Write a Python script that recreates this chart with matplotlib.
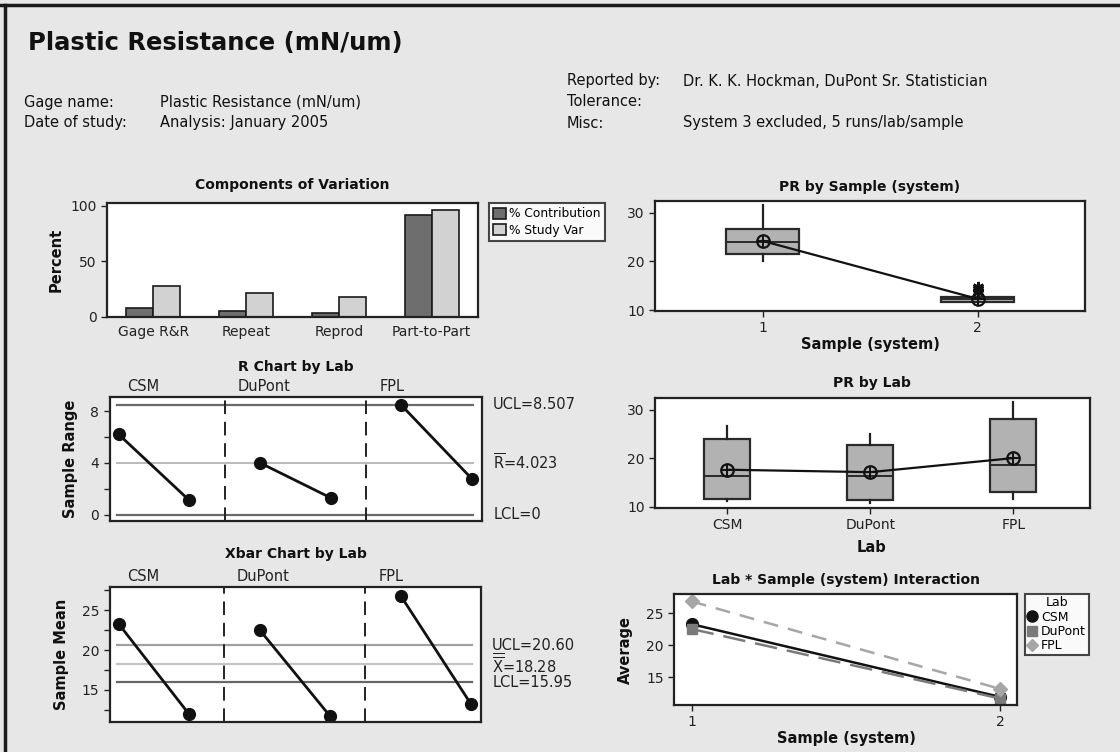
import matplotlib
matplotlib.use('Agg')
import matplotlib.pyplot as plt
import matplotlib.transforms as mtransforms
from matplotlib.lines import Line2D

plt.rcParams['font.family'] = ['DejaVu Sans']
plt.rcParams['mathtext.fontset'] = 'dejavusans'

W, H = 1120, 752
BG = '#e7e7e7'

# ---------------- data ----------------
components = ['Gage R&R', 'Repeat', 'Reprod', 'Part-to-Part']
pct_contribution = [7.9, 5.8, 3.4, 92.1]
pct_study_var = [28.2, 21.8, 17.8, 96.0]

labs = ['CSM', 'DuPont', 'FPL']
samples = [1, 2]
r_values = [6.2, 1.1, 4.0, 1.3, 8.45, 2.75]
r_ucl, r_bar, r_lcl = 8.507, 4.023, 0.0
xbar_values = [23.3, 11.95, 22.55, 11.7, 26.85, 13.2]
x_ucl, x_bar, x_lcl = 20.60, 18.28, 15.95

# PR by sample boxplot statistics
sample_med = [23.9, 12.2]
sample_q1 = [21.6, 11.6]
sample_q3 = [26.6, 12.6]
sample_whislo = [20.0, 11.5]
sample_whishi = [31.5, 12.7]
sample_mean = [24.2, 12.3]
sample_fliers = [[], [13.8, 14.3, 14.8]]

# PR by lab boxplot statistics
lab_med = [16.4, 16.4, 18.5]
lab_q1 = [11.6, 11.4, 13.0]
lab_q3 = [23.9, 22.7, 28.1]
lab_whislo = [11.2, 10.7, 11.6]
lab_whishi = [26.6, 24.9, 31.5]
lab_mean = [17.6, 17.1, 20.0]

# interaction means (lab x sample)
inter_csm = [23.3, 11.95]
inter_dupont = [22.55, 11.7]
inter_fpl = [26.85, 13.2]

# ---------------- figure ----------------
fig = plt.figure(figsize=(W / 100, H / 100), dpi=100, facecolor=BG)


def px_axes(l, t, r, b):
    ax = fig.add_axes([l / W, 1 - b / H, (r - l) / W, (b - t) / H])
    ax.set_facecolor('white')
    for s in ax.spines.values():
        s.set_linewidth(1.6)
        s.set_color('#222222')
    ax.tick_params(axis='both', which='both', direction='out', length=4,
                   width=1, labelsize=10, colors='#222222', labelcolor='#222222')
    return ax


def ftext(x, y, s, **kw):
    fig.text(x / W, 1 - y / H, s, **kw)


# frame lines
fig.add_artist(Line2D([0, 1], [1 - 5 / H, 1 - 5 / H], color='#1a1a1a', lw=2.5,
                      transform=fig.transFigure))
fig.add_artist(Line2D([5 / W, 5 / W], [0, 1 - 5 / H], color='#1a1a1a', lw=2.5,
                      transform=fig.transFigure))

# header
ftext(28, 43, 'Plastic Resistance (mN/um)', fontsize=17.5, fontweight='bold',
      va='center', ha='left', color='#111111')
hdr = dict(fontsize=10.5, va='center', ha='left', color='#111111')
ftext(24, 102, 'Gage name:', **hdr)
ftext(160, 102, 'Plastic Resistance (mN/um)', **hdr)
ftext(24, 123, 'Date of study:', **hdr)
ftext(160, 123, 'Analysis: January 2005', **hdr)
ftext(567, 81, 'Reported by:', **hdr)
ftext(683, 81, 'Dr. K. K. Hockman, DuPont Sr. Statistician', **hdr)
ftext(567, 102, 'Tolerance:', **hdr)
ftext(567, 123, 'Misc:', **hdr)
ftext(683, 123, 'System 3 excluded, 5 runs/lab/sample', **hdr)

title_kw = dict(fontsize=10, fontweight='bold', ha='center', va='center', color='#111111')
lab_kw = dict(fontsize=10.5, fontweight='bold', color='#111111')

# ---------- Components of Variation ----------
ax1 = px_axes(107, 203, 478, 317)
x = list(range(len(components)))
bw = 0.29
ax1.bar([i - bw / 2 for i in x], pct_contribution, width=bw, color='#6e6e6e',
        edgecolor='#1a1a1a', linewidth=1.2, label='% Contribution')
ax1.bar([i + bw / 2 for i in x], pct_study_var, width=bw, color='#d2d2d2',
        edgecolor='#1a1a1a', linewidth=1.2, label='% Study Var')
ax1.set_xlim(-0.5, 3.5)
ax1.set_ylim(0, 102.5)
ax1.set_yticks([0, 50, 100])
ax1.set_xticks(x)
ax1.set_xticklabels(components)
ax1.tick_params(axis='x', length=0, pad=6)
ax1.set_ylabel('Percent', **lab_kw)
ax1.yaxis.set_label_coords(-0.118, 0.5)
ftext(292, 185, 'Components of Variation', **title_kw)
leg = ax1.legend(loc='upper left', bbox_to_anchor=(1.03, 1.0), fontsize=8.8,
                 frameon=True, fancybox=False, edgecolor='#1a1a1a', borderpad=0.35,
                 handlelength=1.0, handleheight=1.0, handletextpad=0.3,
                 labelspacing=0.3, borderaxespad=0)
leg.get_frame().set_linewidth(1.5)
leg.get_frame().set_facecolor('white')

# ---------- R Chart by Lab ----------
pos = [1, 2, 3, 4, 5, 6]
ax2 = px_axes(109.5, 397, 482, 521)
ax2.axhline(r_ucl, xmin=0.02, xmax=0.975, color='#6a6a6a', lw=1.6)
ax2.axhline(r_bar, xmin=0.02, xmax=0.975, color='#b4b4b4', lw=1.3)
ax2.axhline(r_lcl, xmin=0.02, xmax=0.975, color='#6a6a6a', lw=1.6)
for sep in (2.5, 4.5):
    ax2.axvline(sep, color='#222222', lw=1.4, dashes=(7, 4))
for g in range(3):
    ax2.plot(pos[2 * g:2 * g + 2], r_values[2 * g:2 * g + 2], color='#111111',
             lw=2, marker='o', ms=8.5)
ax2.set_xlim(0.87, 6.14)
ax2.set_ylim(-0.49, 9.09)
ax2.set_yticks([0, 4, 8])
ax2.set_yticks([2, 6], minor=True)
ax2.set_xticks([])
ax2.set_ylabel('Sample Range', **lab_kw)
ax2.yaxis.set_label_coords(-0.085, 0.5)
tr2 = mtransforms.blended_transform_factory(ax2.transAxes, ax2.transData)
rk = dict(fontsize=10.5, va='center', ha='left', color='#222222', transform=tr2)
ax2.text(1.03, r_ucl, 'UCL=8.507', **rk)
ax2.text(1.03, r_bar, r'$\overline{\mathrm{R}}$=4.023', **rk)
ax2.text(1.03, r_lcl, 'LCL=0', **rk)
trg2 = mtransforms.blended_transform_factory(ax2.transData, ax2.transAxes)
for xx, nm in zip([1.12, 2.68, 4.69], labs):
    ax2.text(xx, 1.025, nm, fontsize=10.5, ha='left', va='bottom', color='#222222',
             transform=trg2)
ftext(296, 367, 'R Chart by Lab', **title_kw)

# ---------- Xbar Chart by Lab ----------
ax3 = px_axes(109.5, 587, 481, 722)
ax3.axhline(x_ucl, xmin=0.02, xmax=0.975, color='#a0a0a0', lw=1.6)
ax3.axhline(x_bar, xmin=0.02, xmax=0.975, color='#c4c4c4', lw=1.6)
ax3.axhline(x_lcl, xmin=0.02, xmax=0.975, color='#666666', lw=1.6)
for sep in (2.5, 4.5):
    ax3.axvline(sep, color='#222222', lw=1.4, dashes=(7, 4))
for g in range(3):
    ax3.plot(pos[2 * g:2 * g + 2], xbar_values[2 * g:2 * g + 2], color='#111111',
             lw=2, marker='o', ms=8.5)
ax3.set_xlim(0.87, 6.14)
ax3.set_ylim(10.98, 27.93)
ax3.set_yticks([15, 20, 25])
ax3.set_yticks([12.5, 17.5, 22.5, 27.5], minor=True)
ax3.set_xticks([])
ax3.set_ylabel('Sample Mean', **lab_kw)
ax3.yaxis.set_label_coords(-0.11, 0.5)
tr3 = mtransforms.blended_transform_factory(ax3.transAxes, ax3.transData)
xk = dict(fontsize=10.5, va='center', ha='left', color='#222222', transform=tr3)
ax3.text(1.03, x_ucl, 'UCL=20.60', **xk)
ax3.text(1.03, x_bar, r'$\overline{\overline{\mathrm{X}}}$=18.28', **xk)
ax3.text(1.03, x_lcl, 'LCL=15.95', **xk)
trg3 = mtransforms.blended_transform_factory(ax3.transData, ax3.transAxes)
for xx, nm in zip([1.12, 2.68, 4.69], labs):
    ax3.text(xx, 1.025, nm, fontsize=10.5, ha='left', va='bottom', color='#222222',
             transform=trg3)
ftext(296, 554, 'Xbar Chart by Lab', **title_kw)


def box_stats(med, q1, q3, lo, hi, mean, fliers):
    out = []
    for i in range(len(med)):
        out.append(dict(med=med[i], q1=q1[i], q3=q3[i], whislo=lo[i], whishi=hi[i],
                        mean=mean[i], fliers=fliers[i]))
    return out


box_kw = dict(patch_artist=True, showmeans=False, showcaps=False,
              boxprops=dict(facecolor='#b2b2b2', edgecolor='#2a2a2a', linewidth=1.6),
              medianprops=dict(color='#2a2a2a', linewidth=1.4),
              whiskerprops=dict(color='#222222', linewidth=1.6),
              flierprops=dict(marker=(6, 2, 0), markersize=8, markeredgecolor='#111111',
                              markeredgewidth=2))

# ---------- PR by Sample ----------
ax4 = px_axes(655, 201, 1085, 311)
st = box_stats(sample_med, sample_q1, sample_q3, sample_whislo, sample_whishi,
               sample_mean, sample_fliers)
ax4.bxp(st, positions=samples, widths=0.34, **box_kw)
ax4.plot(samples, sample_mean, color='#111111', lw=1.6, zorder=5)
ax4.plot(samples, sample_mean, ls='none', marker='o', ms=9, mfc='none',
         mec='#111111', mew=1.6, zorder=6)
ax4.plot(samples, sample_mean, ls='none', marker='+', ms=9, mec='#111111',
         mew=1.4, zorder=6)
ax4.set_xlim(0.5, 2.5)
ax4.set_ylim(9.8, 32.4)
ax4.set_yticks([10, 20, 30])
ax4.set_xticks(samples)
ax4.set_xticklabels([str(s) for s in samples])
ftext(870, 187, 'PR by Sample (system)', **title_kw)
ftext(870, 345, 'Sample (system)', ha='center', va='center', **lab_kw)

# ---------- PR by Lab ----------
ax5 = px_axes(655, 398, 1090, 508)
st = box_stats(lab_med, lab_q1, lab_q3, lab_whislo, lab_whishi, lab_mean,
               [[], [], []])
lpos = [1, 2, 3]
ax5.bxp(st, positions=lpos, widths=0.32, **box_kw)
ax5.plot(lpos, lab_mean, color='#111111', lw=1.6, zorder=5)
ax5.plot(lpos, lab_mean, ls='none', marker='o', ms=9, mfc='none',
         mec='#111111', mew=1.6, zorder=6)
ax5.plot(lpos, lab_mean, ls='none', marker='+', ms=9, mec='#111111',
         mew=1.4, zorder=6)
ax5.set_xlim(0.494, 3.536)
ax5.set_ylim(9.7, 32.4)
ax5.set_yticks([10, 20, 30])
ax5.set_xticks(lpos)
ax5.set_xticklabels(labs)
ftext(872, 383, 'PR by Lab', **title_kw)
ftext(872, 547, 'Lab', ha='center', va='center', **lab_kw)

# ---------- Interaction ----------
ax6 = px_axes(674, 594, 1017, 705)
l1, = ax6.plot(samples, inter_csm, color='#111111', lw=1.8, marker='o', ms=8.5,
               label='CSM')
l2, = ax6.plot(samples, inter_dupont, color='#7a7a7a', lw=1.8, dashes=(9, 4),
               marker='s', ms=7.5, label='DuPont')
l3, = ax6.plot(samples, inter_fpl, color='#a6a6a6', lw=1.8, dashes=(6, 4),
               marker='D', ms=7, label='FPL')
ax6.set_xlim(0.943, 2.054)
ax6.set_ylim(10.7, 28.0)
ax6.set_yticks([15, 20, 25])
ax6.set_xticks(samples)
ax6.set_ylabel('Average', **lab_kw)
ax6.yaxis.set_label_coords(-0.12, 0.5)
h = [Line2D([], [], ls='none', marker='o', ms=8, color='#111111'),
     Line2D([], [], ls='none', marker='s', ms=7, color='#7a7a7a'),
     Line2D([], [], ls='none', marker='D', ms=6.5, color='#a6a6a6')]
leg6 = ax6.legend(h, labs, title='Lab', loc='upper left', bbox_to_anchor=(1.023, 1.0),
                  fontsize=9, title_fontsize=9, frameon=True, fancybox=False,
                  edgecolor='#1a1a1a', borderpad=0.2, handlelength=0.8,
                  handletextpad=0.3, labelspacing=0.1, borderaxespad=0)
leg6.get_frame().set_linewidth(1.5)
leg6.get_frame().set_facecolor('white')
ftext(846, 580, 'Lab * Sample (system) Interaction', **title_kw)
ftext(846, 738, 'Sample (system)', ha='center', va='center', **lab_kw)

fig.savefig('out.png', dpi=100, facecolor=BG)
